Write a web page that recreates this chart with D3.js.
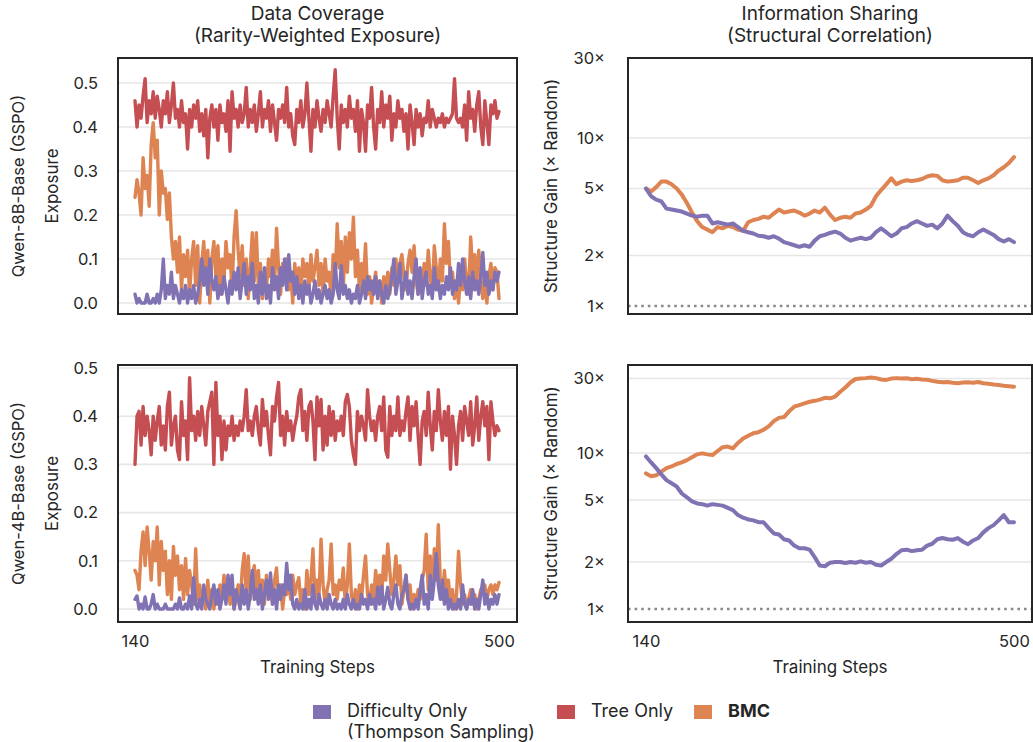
<!DOCTYPE html>
<html>
<head>
<meta charset="utf-8">
<script src="https://cdn.jsdelivr.net/npm/d3@7"></script>
<style>
  body { margin: 0; background: #fff; }
  text { font-family: Inter, "Noto Sans", sans-serif; fill: #262626; }
</style>
</head>
<body>
<svg id="chart" width="1033" height="742"></svg>
<script>
// ---- data ----------------------------------------------------------------
const stepsDense = d3.range(140, 501, 2);   // exposure series, every 2 steps
const stepsSparse = d3.range(140, 501, 5);  // structure-gain series, every 5 steps
const xTicks = [140, 500];
const exposureTicks = [0, 0.1, 0.2, 0.3, 0.4, 0.5];
const gainTicks = [1, 2, 5, 10, 30];
const seriesNames = ["Difficulty Only\n(Thompson Sampling)", "Tree Only", "BMC"];
const seriesColors = ["#8172b3", "#c44e52", "#dd8452"];
const rowLabels = ["Qwen-8B-Base (GSPO)", "Qwen-4B-Base (GSPO)"];
const colTitles = [["Data Coverage", "(Rarity-Weighted Exposure)"], ["Information Sharing", "(Structural Correlation)"]];

// Qwen-8B exposure
const exp8Tree = [
  0.46,0.40,0.45,0.42,0.47,0.51,0.41,0.46,0.43,0.48,0.42,0.47,0.44,0.40,0.46,0.43,0.48,0.41,0.45,0.50,
  0.42,0.44,0.40,0.46,0.41,0.43,0.35,0.44,0.40,0.45,0.42,0.46,0.39,0.43,0.38,0.44,0.33,0.42,0.45,0.40,
  0.44,0.37,0.45,0.41,0.43,0.39,0.46,0.345,0.48,0.42,0.44,0.40,0.45,0.41,0.43,0.49,0.40,0.44,0.41,0.45,
  0.39,0.43,0.48,0.40,0.44,0.42,0.46,0.39,0.45,0.41,0.37,0.44,0.42,0.45,0.41,0.49,0.40,0.43,0.38,0.36,
  0.44,0.41,0.46,0.40,0.43,0.50,0.42,0.345,0.44,0.40,0.46,0.42,0.39,0.44,0.41,0.46,0.43,0.40,0.47,0.53,
  0.42,0.35,0.45,0.41,0.44,0.40,0.47,0.42,0.44,0.39,0.46,0.345,0.44,0.41,0.345,0.45,0.42,0.49,0.40,0.35,
  0.44,0.41,0.48,0.40,0.45,0.42,0.47,0.37,0.43,0.40,0.46,0.42,0.44,0.39,0.43,0.35,0.45,0.41,0.36,0.44,
  0.40,0.43,0.38,0.42,0.41,0.46,0.40,0.44,0.42,0.40,0.42,0.41,0.43,0.40,0.42,0.41,0.42,0.43,0.51,0.42,
  0.41,0.42,0.40,0.45,0.37,0.48,0.42,0.44,0.39,0.45,0.48,0.40,0.36,0.46,0.41,0.36,0.45,0.43,0.46,0.42,
  0.435];
const exp8Bmc = [
  0.24,0.28,0.25,0.20,0.33,0.26,0.29,0.22,0.36,0.41,0.33,0.37,0.20,0.30,0.25,0.26,0.19,0.25,0.15,0.10,
  0.14,0.07,0.15,0.03,0.11,0.06,0.12,0.02,0.10,0.14,0.04,0.13,0.00,0.09,0.14,0.05,0.12,0.00,0.10,0.14,
  0.06,0.13,0.02,0.10,0.05,0.14,0.08,0.11,0.03,0.15,0.21,0.12,0.06,0.13,0.04,0.10,0.01,0.08,0.16,0.05,
  0.16,0.04,0.09,0.01,0.07,0.03,0.10,0.06,0.12,0.04,0.17,0.08,0.02,0.09,0.05,0.10,0.03,0.07,0.00,0.09,
  0.04,0.08,0.02,0.10,0.06,0.09,0.03,0.11,0.05,0.08,0.12,0.04,0.09,0.02,0.10,0.05,0.07,0.01,0.11,0.06,
  0.18,0.08,0.14,0.03,0.15,0.07,0.16,0.10,0.195,0.06,0.12,0.03,0.09,0.05,0.135,0.02,0.06,0.00,0.04,0.07,
  0.02,0.05,0.00,0.06,0.03,0.07,0.02,0.08,0.04,0.10,0.05,0.09,0.11,0.06,0.03,0.09,0.12,0.07,0.13,0.05,
  0.02,0.07,0.03,0.09,0.04,0.12,0.06,0.02,0.13,0.08,0.03,0.10,0.05,0.18,0.09,0.14,0.04,0.07,0.01,0.05,
  0.00,0.06,0.03,0.10,0.05,0.02,0.15,0.07,0.11,0.04,0.12,0.06,0.01,0.05,0.00,0.06,0.09,0.03,0.08,0.07,
  0.01];
const exp8Diff = [
  0.02,0.00,0.01,0.00,0.00,0.00,0.02,0.00,0.00,0.01,0.00,0.02,0.00,0.03,0.10,0.01,0.04,0.02,0.07,0.01,
  0.04,0.02,0.00,0.03,0.01,0.04,0.00,0.03,0.01,0.04,0.00,0.02,0.05,0.10,0.04,0.08,0.02,0.10,0.05,0.03,
  0.06,0.01,0.04,0.02,0.06,0.03,0.00,0.05,0.02,0.07,0.03,0.08,0.01,0.05,0.09,0.02,0.06,0.03,0.09,0.01,
  0.04,0.00,0.07,0.02,0.08,0.01,0.04,0.00,0.08,0.03,0.06,0.01,0.08,0.04,0.10,0.03,0.11,0.05,0.07,0.02,
  0.06,0.01,0.04,0.00,0.05,0.02,0.04,0.00,0.02,0.05,0.01,0.03,0.00,0.02,0.04,0.01,0.03,0.00,0.02,0.09,
  0.03,0.01,0.085,0.02,0.04,0.01,0.03,0.00,0.02,0.01,0.04,0.00,0.02,0.05,0.01,0.06,0.03,0.05,0.02,0.06,
  0.01,0.05,0.02,0.00,0.04,0.01,0.03,0.06,0.10,0.02,0.05,0.09,0.01,0.04,0.07,0.02,0.05,0.01,0.06,0.10,
  0.02,0.08,0.01,0.05,0.07,0.02,0.04,0.01,0.08,0.03,0.05,0.01,0.04,0.02,0.06,0.03,0.08,0.02,0.05,0.03,
  0.09,0.04,0.10,0.05,0.02,0.06,0.01,0.07,0.03,0.05,0.02,0.06,0.115,0.04,0.07,0.02,0.05,0.03,0.07,0.05,
  0.07];

// Qwen-4B exposure
const exp4Tree = [
  0.30,0.40,0.41,0.34,0.42,0.36,0.40,0.37,0.32,0.40,0.35,0.39,0.42,0.34,0.38,0.33,0.42,0.45,0.34,0.38,
  0.40,0.33,0.31,0.43,0.36,0.39,0.31,0.48,0.37,0.40,0.35,0.41,0.36,0.42,0.38,0.34,0.41,0.43,0.45,0.30,
  0.47,0.36,0.40,0.31,0.39,0.33,0.38,0.36,0.40,0.35,0.38,0.36,0.39,0.37,0.40,0.455,0.37,0.39,0.36,0.40,
  0.42,0.37,0.34,0.435,0.38,0.41,0.36,0.32,0.42,0.39,0.44,0.47,0.36,0.40,0.34,0.41,0.37,0.39,0.35,0.38,
  0.40,0.44,0.455,0.37,0.41,0.35,0.42,0.43,0.39,0.31,0.44,0.38,0.435,0.33,0.40,0.34,0.42,0.36,0.41,0.35,
  0.39,0.37,0.40,0.36,0.43,0.445,0.42,0.35,0.32,0.30,0.41,0.37,0.40,0.38,0.35,0.455,0.40,0.37,0.39,0.35,
  0.40,0.42,0.37,0.44,0.33,0.315,0.42,0.36,0.40,0.37,0.44,0.36,0.39,0.37,0.41,0.44,0.35,0.42,0.38,0.43,
  0.36,0.30,0.39,0.41,0.36,0.45,0.38,0.33,0.41,0.37,0.455,0.39,0.35,0.41,0.36,0.42,0.29,0.40,0.36,0.30,
  0.38,0.41,0.35,0.42,0.39,0.36,0.43,0.34,0.38,0.44,0.35,0.40,0.43,0.38,0.42,0.31,0.43,0.39,0.36,0.38,
  0.37];
const exp4Bmc = [
  0.08,0.07,0.04,0.12,0.16,0.09,0.17,0.12,0.06,0.14,0.10,0.17,0.05,0.14,0.08,0.12,0.03,0.10,0.02,0.13,
  0.07,0.11,0.04,0.09,0.02,0.105,0.03,0.08,0.05,0.01,0.125,0.02,0.05,0.01,0.03,0.00,0.06,0.01,0.04,0.00,
  0.03,0.01,0.05,0.02,0.07,0.04,0.06,0.01,0.03,0.00,0.02,0.05,0.01,0.08,0.115,0.03,0.11,0.02,0.07,0.09,
  0.04,0.08,0.02,0.06,0.01,0.07,0.03,0.05,0.01,0.06,0.085,0.02,0.05,0.00,0.04,0.03,0.06,0.02,0.07,0.03,
  0.05,0.065,0.01,0.04,0.00,0.08,0.03,0.06,0.125,0.02,0.06,0.03,0.145,0.05,0.01,0.04,0.06,0.135,0.03,0.05,
  0.02,0.06,0.04,0.085,0.01,0.05,0.135,0.03,0.01,0.04,0.00,0.05,0.02,0.07,0.11,0.03,0.01,0.05,0.02,0.08,
  0.04,0.07,0.02,0.11,0.06,0.135,0.08,0.03,0.06,0.11,0.05,0.09,0.01,0.04,0.07,0.02,0.05,0.00,0.03,0.01,
  0.04,0.02,0.06,0.08,0.155,0.04,0.11,0.03,0.125,0.06,0.175,0.05,0.02,0.08,0.03,0.06,0.01,0.04,0.00,0.03,
  0.12,0.05,0.01,0.03,0.00,0.02,0.04,0.01,0.03,0.00,0.02,0.04,0.03,0.05,0.02,0.04,0.05,0.03,0.05,0.04,
  0.055];
const exp4Diff = [
  0.02,0.027,0.00,0.01,0.00,0.025,0.00,0.00,0.01,0.03,0.00,0.01,0.00,0.00,0.00,0.01,0.00,0.00,0.00,0.00,
  0.01,0.00,0.023,0.00,0.00,0.01,0.00,0.027,0.00,0.065,0.01,0.00,0.02,0.00,0.05,0.02,0.01,0.00,0.03,0.05,
  0.01,0.04,0.00,0.02,0.05,0.01,0.07,0.03,0.07,0.00,0.04,0.02,0.00,0.05,0.01,0.04,0.00,0.03,0.08,0.02,
  0.04,0.01,0.05,0.00,0.03,0.06,0.02,0.075,0.01,0.04,0.00,0.05,0.02,0.05,0.03,0.095,0.04,0.07,0.01,0.00,
  0.02,0.00,0.01,0.00,0.04,0.00,0.02,0.00,0.05,0.01,0.00,0.03,0.01,0.00,0.02,0.00,0.03,0.01,0.00,0.02,
  0.00,0.01,0.00,0.02,0.00,0.03,0.01,0.00,0.02,0.00,0.01,0.00,0.03,0.01,0.02,0.00,0.03,0.01,0.02,0.00,
  0.045,0.01,0.047,0.00,0.02,0.045,0.01,0.00,0.03,0.05,0.01,0.00,0.03,0.04,0.07,0.02,0.00,0.01,0.00,0.02,
  0.00,0.04,0.07,0.01,0.03,0.00,0.07,0.02,0.06,0.115,0.05,0.02,0.06,0.01,0.04,0.00,0.02,0.00,0.01,0.00,
  0.02,0.00,0.05,0.01,0.00,0.02,0.01,0.04,0.00,0.02,0.00,0.03,0.06,0.01,0.03,0.00,0.02,0.01,0.03,0.01,
  0.03];

// Structure gain (x random), Qwen-8B
const gain8Bmc = [
  5.0,4.8,5.1,5.5,5.5,5.3,5.0,4.6,4.1,3.6,3.2,2.95,2.85,2.75,2.95,2.9,3.0,2.95,2.85,2.8,
  3.15,3.25,3.3,3.4,3.35,3.55,3.75,3.6,3.65,3.7,3.6,3.45,3.55,3.7,3.6,3.85,3.5,3.25,3.35,3.4,
  3.35,3.55,3.6,3.75,3.95,4.5,4.9,5.3,5.75,5.3,5.5,5.6,5.55,5.6,5.7,5.9,6.0,5.95,5.6,5.5,
  5.55,5.6,5.8,5.8,5.6,5.4,5.6,5.75,6.0,6.4,6.7,7.1,7.7];
const gain8Diff = [
  5.0,4.5,4.3,4.2,3.8,3.75,3.7,3.65,3.55,3.45,3.4,3.45,3.45,3.1,3.15,3.1,3.05,3.1,2.95,2.8,
  2.75,2.7,2.62,2.6,2.55,2.6,2.52,2.4,2.35,2.3,2.25,2.3,2.25,2.45,2.6,2.65,2.72,2.77,2.7,2.55,
  2.45,2.5,2.55,2.5,2.55,2.75,2.9,2.75,2.6,2.7,2.9,2.95,3.1,3.2,3.1,3.0,3.05,2.9,3.1,3.45,
  3.2,3.0,2.75,2.65,2.6,2.75,2.85,2.75,2.65,2.5,2.42,2.5,2.4];

// Structure gain (x random), Qwen-4B
const gain4Bmc = [
  7.4,7.1,7.2,7.6,8.0,8.2,8.5,8.7,9.0,9.4,9.8,9.95,9.8,9.7,10.3,10.9,11.0,10.7,11.6,12.4,
  12.9,13.4,13.6,14.1,14.8,16.0,16.8,17.0,18.5,19.8,20.3,20.8,21.3,21.6,22.0,22.6,22.4,23.0,24.7,26.3,
  28.3,29.8,30.0,30.2,30.5,30.2,29.6,29.4,30.0,30.2,30.0,30.1,29.7,29.9,29.6,29.5,29.0,28.6,28.4,28.5,
  28.2,28.0,28.3,28.4,28.2,28.5,28.0,27.8,27.5,27.3,27.0,26.8,26.6];
const gain4Diff = [
  9.5,8.7,8.0,7.3,6.7,6.4,6.1,5.5,5.2,4.9,4.75,4.7,4.6,4.7,4.65,4.6,4.45,4.3,4.0,3.85,
  3.75,3.7,3.6,3.6,3.3,3.05,3.0,2.8,2.75,2.55,2.45,2.45,2.4,2.15,1.9,1.88,1.98,2.0,2.0,1.97,
  2.0,1.98,2.02,1.98,2.0,1.92,1.9,2.0,2.1,2.25,2.38,2.4,2.35,2.38,2.4,2.55,2.62,2.8,2.85,2.8,
  2.78,2.85,2.7,2.6,2.75,2.85,3.1,3.3,3.45,3.7,4.0,3.6,3.6];

// ---- layout --------------------------------------------------------------
const svg = d3.select("#chart");
svg.append("rect").attr("width", 1033).attr("height", 742).attr("fill", "#fff");

const INK = "#262626";
const GRID = "#e6e6e6";
const FONT = "Inter, 'Noto Sans', sans-serif";

const panels = [
  { frame: [118, 517, 58, 314], xr: [135, 499], kind: "lin", yr: [303, 83], labelX: 98,
    series: [[exp8Tree, 1], [exp8Bmc, 2], [exp8Diff, 0]], steps: stepsDense, lw: 3.4 },
  { frame: [628, 1032, 58, 314], xr: [646, 1014], kind: "log", yr: [306, 138], labelX: 605,
    series: [[gain8Bmc, 2], [gain8Diff, 0]], steps: stepsSparse, lw: 4 },
  { frame: [118, 517, 365, 622], xr: [135, 499], kind: "lin", yr: [609, 368], labelX: 98,
    series: [[exp4Tree, 1], [exp4Bmc, 2], [exp4Diff, 0]], steps: stepsDense, lw: 3.4 },
  { frame: [628, 1032, 365, 622], xr: [646, 1014], kind: "log", yr: [609, 453], labelX: 605,
    series: [[gain4Bmc, 2], [gain4Diff, 0]], steps: stepsSparse, lw: 4 }
];

panels.forEach((p, i) => {
  const [fx0, fx1, fy0, fy1] = p.frame;
  const x = d3.scaleLinear().domain([140, 500]).range(p.xr);
  const y = p.kind === "lin"
    ? d3.scaleLinear().domain([0, 0.5]).range(p.yr)
    : d3.scaleLog().domain([1, 10]).range(p.yr);
  const ticks = p.kind === "lin" ? exposureTicks : gainTicks;
  const fmt = p.kind === "lin" ? d3.format(".1f") : (d => d + "\u00d7");
  const g = svg.append("g");

  // horizontal grid
  g.selectAll("line.grid").data(ticks.filter(t => !(p.kind === "log" && t === 1)))
    .join("line").attr("class", "grid")
    .attr("x1", fx0).attr("x2", fx1)
    .attr("y1", d => y(d)).attr("y2", d => y(d))
    .attr("stroke", GRID).attr("stroke-width", 1.6);

  // y tick labels through a left axis with hidden domain / tick marks
  const yAxis = d3.axisLeft(y).tickValues(ticks).tickFormat(fmt).tickSize(0).tickPadding(0);
  const ya = g.append("g").attr("transform", `translate(${p.labelX},0)`).call(yAxis);
  ya.select(".domain").remove();
  ya.selectAll("text").attr("font-size", 16.5).attr("fill", INK).attr("font-family", FONT);

  // reference line at 1x for structure gain
  if (p.kind === "log") {
    g.append("line").attr("x1", fx0).attr("x2", fx1).attr("y1", y(1)).attr("y2", y(1))
      .attr("stroke", "#8a8a8a").attr("stroke-width", 2.6).attr("stroke-dasharray", "2.6,4");
  }

  // series
  const line = d3.line().x(d => x(d[0])).y(d => y(d[1]));
  p.series.forEach(([vals, ci]) => {
    const pts = p.steps.map((s, k) => [s, vals[k]]).filter(d => d[1] !== undefined);
    g.append("path").datum(pts).attr("d", line)
      .attr("fill", "none").attr("stroke", seriesColors[ci])
      .attr("stroke-width", p.lw).attr("stroke-linejoin", "round").attr("stroke-linecap", "round");
  });

  // frame
  g.append("rect").attr("x", fx0).attr("y", fy0).attr("width", fx1 - fx0).attr("height", fy1 - fy0)
    .attr("fill", "none").attr("stroke", INK).attr("stroke-width", 2);

  // x tick labels on bottom row
  if (i >= 2) {
    const xAxis = d3.axisBottom(x).tickValues(xTicks).tickFormat(d3.format("d")).tickSize(0).tickPadding(0);
    const xa = g.append("g").attr("transform", `translate(0,${fy1 + 13})`).call(xAxis);
    xa.select(".domain").remove();
    xa.selectAll("text").attr("font-size", 16.5).attr("fill", INK).attr("font-family", FONT);
    g.append("text").attr("x", (fx0 + fx1) / 2).attr("y", 673).attr("text-anchor", "middle")
      .attr("font-size", 17).text("Training Steps");
  }

  // column titles on top row
  if (i < 2) {
    colTitles[i].forEach((t, k) => {
      g.append("text").attr("x", (fx0 + fx1) / 2).attr("y", 20 + k * 22)
        .attr("text-anchor", "middle").attr("font-size", 19).text(t);
    });
  }

  // y axis titles
  const cy = (fy0 + fy1) / 2;
  if (p.kind === "lin") {
    g.append("text").attr("transform", `translate(24,${cy}) rotate(-90)`)
      .attr("text-anchor", "middle").attr("font-size", 16.5).text(rowLabels[i >> 1]);
    g.append("text").attr("transform", `translate(58,${cy}) rotate(-90)`)
      .attr("text-anchor", "middle").attr("font-size", 17).text("Exposure");
  } else {
    g.append("text").attr("transform", `translate(557,${cy}) rotate(-90)`)
      .attr("text-anchor", "middle").attr("font-size", 17).text("Structure Gain (\u00d7 Random)");
  }
});

// ---- legend --------------------------------------------------------------
const legendX = [313, 557, 694];
const legend = svg.append("g");
seriesNames.forEach((name, k) => {
  legend.append("rect").attr("x", legendX[k]).attr("y", 705).attr("width", 18).attr("height", 14)
    .attr("fill", seriesColors[k]);
  const t = legend.append("text").attr("x", legendX[k] + 34).attr("y", 717).attr("font-size", 18)
    .attr("font-weight", name === "BMC" ? 700 : 400);
  name.split("\n").forEach((ln, j) => {
    t.append("tspan").attr("x", legendX[k] + 34).attr("dy", j === 0 ? 0 : 21).text(ln);
  });
});
</script>
</body>
</html>
